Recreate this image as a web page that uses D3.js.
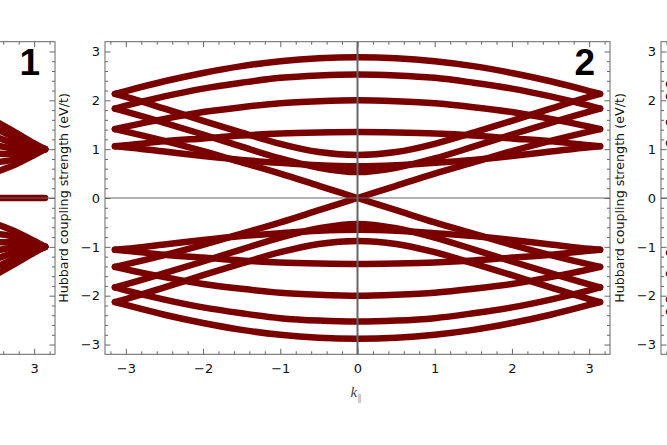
<!DOCTYPE html>
<html lang="en">
<head>
<meta charset="UTF-8">
<title>Band structure</title>
<style>
    body { margin: 0; background: #fff; }
    svg { display: block; }
    .tick text { font-family: 'DejaVu Sans', sans-serif; font-size: 13px; fill: #111; }
    .tick line { stroke: #666; }
    .band { fill: none; stroke: #7a0000; stroke-width: 6.5; stroke-linecap: round; stroke-linejoin: round; }
    .frame { fill: none; stroke: #666; stroke-width: 1; }
    .ylab { font-family: 'DejaVu Sans', sans-serif; font-size: 12.7px; fill: #111; }
    .num { font-family: 'Liberation Sans', Arial, sans-serif; font-weight: bold; font-size: 37px; fill: #000; }
</style>
</head>
<body>
<script src="https://cdn.jsdelivr.net/npm/d3@7"></script>
<script>
// Momentum samples for the middle panel (panel 2)
const kVals = [-3.1416, -3, -2.5, -2, -1.5, -1, -0.5, 0, 0.5, 1, 1.5, 2, 2.5, 3, 3.1416];

// Energies, one row per band
const upperBands = [
    [2.13, 2.19, 2.39, 2.56, 2.70, 2.80, 2.86, 2.88, 2.86, 2.80, 2.70, 2.56, 2.39, 2.19, 2.13],
    [1.83, 1.89, 2.08, 2.24, 2.36, 2.46, 2.51, 2.53, 2.51, 2.46, 2.36, 2.24, 2.08, 1.89, 1.83],
    [1.41, 1.46, 1.62, 1.76, 1.86, 1.94, 1.98, 2.00, 1.98, 1.94, 1.86, 1.76, 1.62, 1.46, 1.41],
    [1.06, 1.08, 1.16, 1.22, 1.28, 1.32, 1.34, 1.35, 1.34, 1.32, 1.28, 1.22, 1.16, 1.08, 1.06],
    [1.06, 1.04, 0.95, 0.86, 0.78, 0.72, 0.67, 0.65, 0.67, 0.72, 0.78, 0.86, 0.95, 1.04, 1.06],
    [-1.41, -1.36, -1.17, -0.96, -0.73, -0.50, -0.25, 0, 0.25, 0.50, 0.73, 0.96, 1.17, 1.36, 1.41],
    [1.83, 1.77, 1.54, 1.30, 1.05, 0.81, 0.62, 0.53, 0.62, 0.81, 1.05, 1.30, 1.54, 1.77, 1.83],
    [2.13, 2.07, 1.83, 1.58, 1.34, 1.11, 0.94, 0.88, 0.94, 1.11, 1.34, 1.58, 1.83, 2.07, 2.13]
];
const lowerBands = [
    [-2.13, -2.19, -2.39, -2.56, -2.70, -2.80, -2.86, -2.88, -2.86, -2.80, -2.70, -2.56, -2.39, -2.19, -2.13],
    [-1.83, -1.89, -2.08, -2.24, -2.36, -2.46, -2.51, -2.53, -2.51, -2.46, -2.36, -2.24, -2.08, -1.89, -1.83],
    [-1.41, -1.46, -1.62, -1.76, -1.86, -1.94, -1.98, -2.00, -1.98, -1.94, -1.86, -1.76, -1.62, -1.46, -1.41],
    [-1.06, -1.08, -1.16, -1.22, -1.28, -1.32, -1.34, -1.35, -1.34, -1.32, -1.28, -1.22, -1.16, -1.08, -1.06],
    [-1.06, -1.04, -0.95, -0.86, -0.78, -0.72, -0.67, -0.65, -0.67, -0.72, -0.78, -0.86, -0.95, -1.04, -1.06],
    [1.41, 1.36, 1.17, 0.96, 0.73, 0.50, 0.25, 0, -0.25, -0.50, -0.73, -0.96, -1.17, -1.36, -1.41],
    [-1.83, -1.77, -1.54, -1.30, -1.05, -0.81, -0.62, -0.53, -0.62, -0.81, -1.05, -1.30, -1.54, -1.77, -1.83],
    [-2.13, -2.07, -1.83, -1.58, -1.34, -1.11, -0.94, -0.88, -0.94, -1.11, -1.34, -1.58, -1.83, -2.07, -2.13]
];

// Panel 1 (only its right end is in view)
const kPanel1 = [2.5, 2.75, 3.0, 3.1416];
const panel1Bands = [
    [1.57, 1.35, 1.12, 1.0], [1.42, 1.24, 1.08, 1.0], [1.25, 1.12, 1.03, 1.0], [1.08, 1.01, 0.98, 1.0],
    [0.91, 0.90, 0.94, 1.0], [0.73, 0.79, 0.91, 1.0], [0.53, 0.68, 0.88, 1.0],
    [0, 0, 0, 0],
    [-1.57, -1.35, -1.12, -1.0], [-1.42, -1.24, -1.08, -1.0], [-1.25, -1.12, -1.03, -1.0], [-1.08, -1.01, -0.98, -1.0],
    [-0.91, -0.90, -0.94, -1.0], [-0.73, -0.79, -0.91, -1.0], [-0.53, -0.68, -0.88, -1.0]
];

// Panel 3 (only its left edge is in view)
const kPanel3 = [-3.1416, -3.0];
const panel3Bands = [
    [2.33, 2.36], [2.08, 2.1], [1.55, 1.58], [1.12, 1.15],
    [-2.33, -2.36], [-2.08, -2.1], [-1.55, -1.58], [-1.12, -1.15]
];

const xTicks = [-3, -2, -1, 0, 1, 2, 3];
const yTicks = [-3, -2, -1, 0, 1, 2, 3];
const yLabel = 'Hubbard coupling strength (eV/t)';

const width = 667;
const height = 445;
const plotTop = 41.7;
const plotBottom = 354.3;
const plotW = 505;
const xDomain = [-3.27, 3.27];
const yDomain = [-3.2, 3.2];

const minorX = d3.range(-32, 33, 2).map((d) => d / 10).filter((d) => !Number.isInteger(d));
const minorY = d3.range(-30, 31, 2).map((d) => d / 10).filter((d) => !Number.isInteger(d));

const svg = d3.select('body').append('svg')
    .attr('width', width)
    .attr('height', height);

const y = d3.scaleLinear().domain(yDomain).range([plotBottom, plotTop]);

function drawPanel(p) {
    const x = d3.scaleLinear().domain(xDomain).range([p.left, p.left + plotW]);
    const xData = d3.scaleLinear().domain(p.dataDomain || xDomain).range([p.left, p.left + plotW]);
    const g = svg.append('g');

    // bands
    const line = d3.line()
        .x((d, i) => xData(p.k[i]))
        .y((d) => y(d))
        .curve(d3.curveMonotoneX);
    g.selectAll('.band')
        .data(p.bands)
        .join('path')
        .attr('class', 'band')
        .attr('d', line);

    // axes lines through zero, drawn over the bands
    g.append('line')
        .attr('x1', p.left).attr('x2', p.left + plotW)
        .attr('y1', y(0)).attr('y2', y(0))
        .attr('stroke', '#666').attr('stroke-width', 1);
    g.append('line')
        .attr('x1', x(0)).attr('x2', x(0))
        .attr('y1', plotTop).attr('y2', plotBottom)
        .attr('stroke', '#666').attr('stroke-width', 2);

    // frame ticks, pointing inward
    g.append('g').attr('transform', `translate(0,${plotBottom})`)
        .call(d3.axisBottom(x).tickValues(xTicks).tickSize(-5.5).tickPadding(9).tickFormat(d3.format('d')));
    g.append('g').attr('transform', `translate(0,${plotBottom})`)
        .call(d3.axisBottom(x).tickValues(minorX).tickSize(-3).tickFormat(''));
    g.append('g').attr('transform', `translate(0,${plotTop})`)
        .call(d3.axisTop(x).tickValues(xTicks).tickSize(-5.5).tickFormat(''));
    g.append('g').attr('transform', `translate(0,${plotTop})`)
        .call(d3.axisTop(x).tickValues(minorX).tickSize(-3).tickFormat(''));

    g.append('g').attr('transform', `translate(${p.left},0)`)
        .call(d3.axisLeft(y).tickValues(yTicks).tickSize(-5.5).tickPadding(5).tickFormat(d3.format('d')));
    g.append('g').attr('transform', `translate(${p.left},0)`)
        .call(d3.axisLeft(y).tickValues(minorY).tickSize(-3).tickFormat(''));
    g.append('g').attr('transform', `translate(${p.left + plotW},0)`)
        .call(d3.axisRight(y).tickValues(yTicks).tickSize(-5.5).tickFormat(''));
    g.append('g').attr('transform', `translate(${p.left + plotW},0)`)
        .call(d3.axisRight(y).tickValues(minorY).tickSize(-3).tickFormat(''));

    g.selectAll('.domain').remove();

    g.append('rect')
        .attr('class', 'frame')
        .attr('x', p.left).attr('y', plotTop)
        .attr('width', plotW).attr('height', plotBottom - plotTop);

    // y label
    g.append('text')
        .attr('class', 'ylab')
        .attr('transform', `translate(${p.left - 37},${y(0)}) rotate(-90)`)
        .attr('text-anchor', 'middle')
        .text(yLabel);

    // x label k with parallel subscript
    const xl = g.append('text')
        .attr('x', x(0) - 7)
        .attr('y', 397)
        .attr('fill', '#444');
    xl.append('tspan')
        .attr('font-family', "'Liberation Serif', serif")
        .attr('font-style', 'italic')
        .attr('font-size', 15)
        .text('k');
    xl.append('tspan')
        .attr('font-family', "'DejaVu Sans', sans-serif")
        .attr('font-size', 9)
        .attr('dy', 4)
        .attr('fill', '#999')
        .text('\u2225');

    // panel number
    g.append('text')
        .attr('class', 'num')
        .attr('x', p.left + plotW - 15)
        .attr('y', 75)
        .attr('text-anchor', 'end')
        .text(p.name);
}

drawPanel({ name: '1', left: 55 - plotW, k: kPanel1, bands: panel1Bands });
drawPanel({ name: '2', left: 105, k: kVals, bands: upperBands.concat(lowerBands) });
drawPanel({ name: '3', left: 661, k: kPanel3, bands: panel3Bands, dataDomain: [-3.245, 3.295] });

// the side panels run off the page: drop texts that fall outside it
svg.selectAll('text').each(function () {
    const r = this.getBoundingClientRect();
    if (r.right > width || r.left < 0) d3.select(this).remove();
});
</script>
</body>
</html>
